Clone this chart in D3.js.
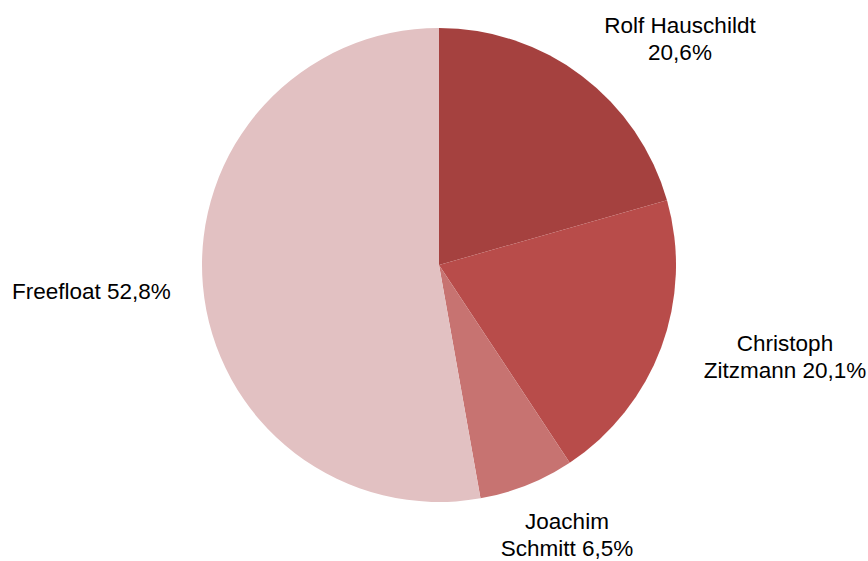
<!DOCTYPE html>
<html><head><meta charset="utf-8">
<script src="https://cdn.jsdelivr.net/npm/d3@7"></script>
<style>html,body{margin:0;padding:0;background:#fff;}</style>
</head><body>
<svg id="c" width="868" height="561"></svg>
<script>
const categories = ["Rolf Hauschildt", "Christoph Zitzmann", "Joachim Schmitt", "Freefloat"];
const values = [20.6, 20.1, 6.5, 52.8];
const labelLines = [["Rolf Hauschildt", "20,6%"], ["Christoph", "Zitzmann 20,1%"], ["Joachim", "Schmitt 6,5%"], ["Freefloat 52,8%"]];
const colors = ["#A5413F", "#B84C4A", "#C77371", "#E2C1C2"];

// label layout (first-line baseline positions)
const labelPos = [[680, 33, "middle"], [785, 351, "middle"], [567, 529, "middle"], [12, 299, "start"]];

const svg = d3.select("#c");
const cx = 439, cy = 265, r = 237;
const pie = d3.pie().sort(null).value(d => d)(values);
const arc = d3.arc().innerRadius(0).outerRadius(r);
const g = svg.append("g").attr("transform", `translate(${cx},${cy})`);
g.selectAll("path").data(pie).join("path")
  .attr("d", arc)
  .attr("fill", (d, i) => colors[i]);

labelLines.forEach((lines, i) => {
  const [x, y, anchor] = labelPos[i];
  const t = svg.append("text")
    .attr("x", x).attr("y", y)
    .attr("text-anchor", anchor)
    .attr("font-family", "Liberation Sans, Arial, sans-serif")
    .attr("font-size", 22.5)
    .attr("fill", "#000");
  lines.forEach((l, j) => {
    t.append("tspan").attr("x", x).attr("dy", j === 0 ? 0 : 26.5).text(l);
  });
});
</script>
</body></html>
